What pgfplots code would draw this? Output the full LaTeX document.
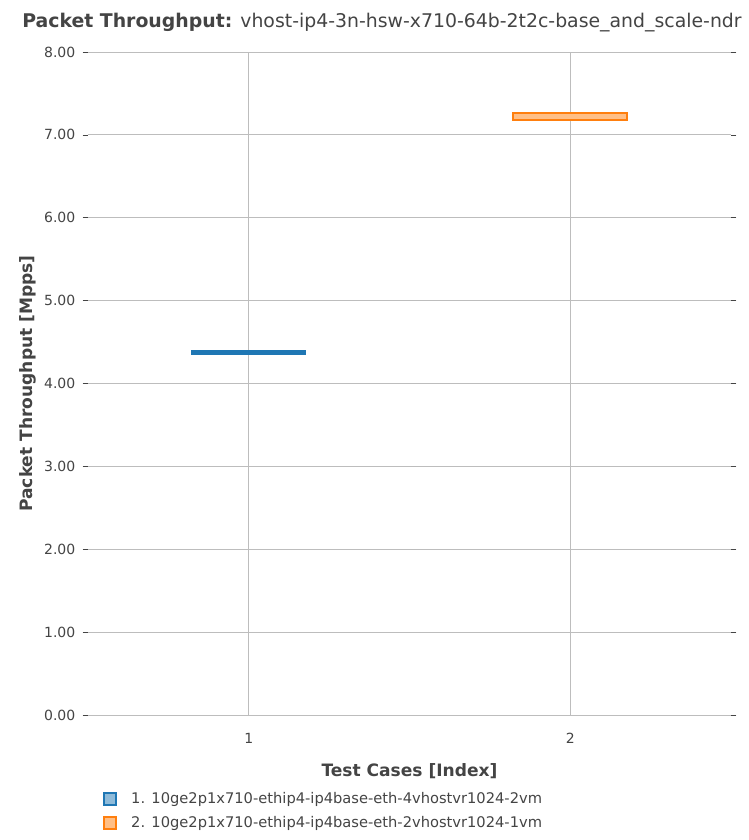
\documentclass[border=0pt]{standalone}
\usepackage{fontspec}
\setmainfont{DejaVu Sans}
\usepackage{pgfplots}
\pgfplotsset{compat=1.18}
\definecolor{c1}{HTML}{1F77B4}
\definecolor{c1f}{HTML}{8FBBD9}
\definecolor{c2}{HTML}{FF7F0E}
\definecolor{c2f}{HTML}{FFBF86}
\definecolor{gridc}{HTML}{BDBDBD}
\definecolor{txt}{HTML}{444444}
\begin{document}
\begin{tikzpicture}
\path[use as bounding box] (0pt,0pt) rectangle (561.75pt,630pt);
\node[anchor=base west, text=txt, font=\fontsize{14.15pt}{16pt}\selectfont, inner sep=0pt] at (16.5pt,609pt) {\textbf{Packet Throughput:} vhost-ip4-3n-hsw-x710-64b-2t2c-base\_and\_scale-ndr};
\begin{axis}[
  at={(66pt,93.75pt)}, anchor=south west,
  scale only axis, width=482.25pt, height=497.25pt,
  xmin=0.5, xmax=2.5, ymin=0, ymax=8,
  xtick={1,2}, ytick={0,1,2,3,4,5,6,7,8},
  yticklabel style={/pgf/number format/fixed, /pgf/number format/fixed zerofill, /pgf/number format/precision=2, /pgf/number format/assume math mode=true, xshift=-2pt},
  xticklabel style={/pgf/number format/assume math mode=true, yshift=-6pt},
  ticklabel style={font=\fontsize{10.5pt}{12pt}\selectfont, text=txt},
  grid=major, major grid style={gridc, line width=0.75pt},
  axis line style={draw=none},
  xtick style={draw=none},
  ytick style={draw=txt, line width=0.5pt},
  tick align=outside, major tick length=4pt,
  ylabel={\textbf{Packet Throughput [Mpps]}},
  xlabel={\textbf{Test Cases [Index]}},
  label style={font=\fontsize{12.8pt}{14pt}\selectfont, text=txt},
  ylabel style={at={(axis description cs:-0.0933,0.5)}, anchor=center},
  xlabel style={at={(axis description cs:0.5,-0.085)}, anchor=center},
  legend style={at={(axis description cs:0.0233,-0.112)}, anchor=north west, draw=none, fill=none,
    font=\fontsize{11pt}{13pt}\selectfont, text=txt, row sep=4pt, inner sep=0pt},
  legend cell align=left,
  legend image code/.code={\draw[#1] (0.75pt,-4.5pt) rectangle (9.75pt,4.5pt); \path[draw=none,fill=none] (0pt,0pt) rectangle (19pt,0.1pt);},
]
% box 1: 10ge2p1x710-ethip4-ip4base-eth-4vhostvr1024-2vm
\addplot[forget plot, draw=c1, fill=c1f, line width=1.5pt] coordinates {(0.825,4.355) (1.175,4.355) (1.175,4.39) (0.825,4.39)} -- cycle;
\addplot[forget plot, draw=c1, line width=1.5pt] coordinates {(0.825,4.372) (1.175,4.372)};
% box 2: 10ge2p1x710-ethip4-ip4base-eth-2vhostvr1024-1vm
\addplot[forget plot, draw=c2, fill=c2f, line width=1.5pt] coordinates {(1.823,7.175) (2.177,7.175) (2.177,7.26) (1.823,7.26)} -- cycle;
\addplot[forget plot, draw=c2, line width=1.5pt] coordinates {(1.823,7.175) (2.177,7.175)};
\addlegendimage{draw=c1, fill=c1f, line width=1.5pt}
\addlegendentry{1. 10ge2p1x710-ethip4-ip4base-eth-4vhostvr1024-2vm}
\addlegendimage{draw=c2, fill=c2f, line width=1.5pt}
\addlegendentry{2. 10ge2p1x710-ethip4-ip4base-eth-2vhostvr1024-1vm}
\end{axis}
\end{tikzpicture}
\end{document}
